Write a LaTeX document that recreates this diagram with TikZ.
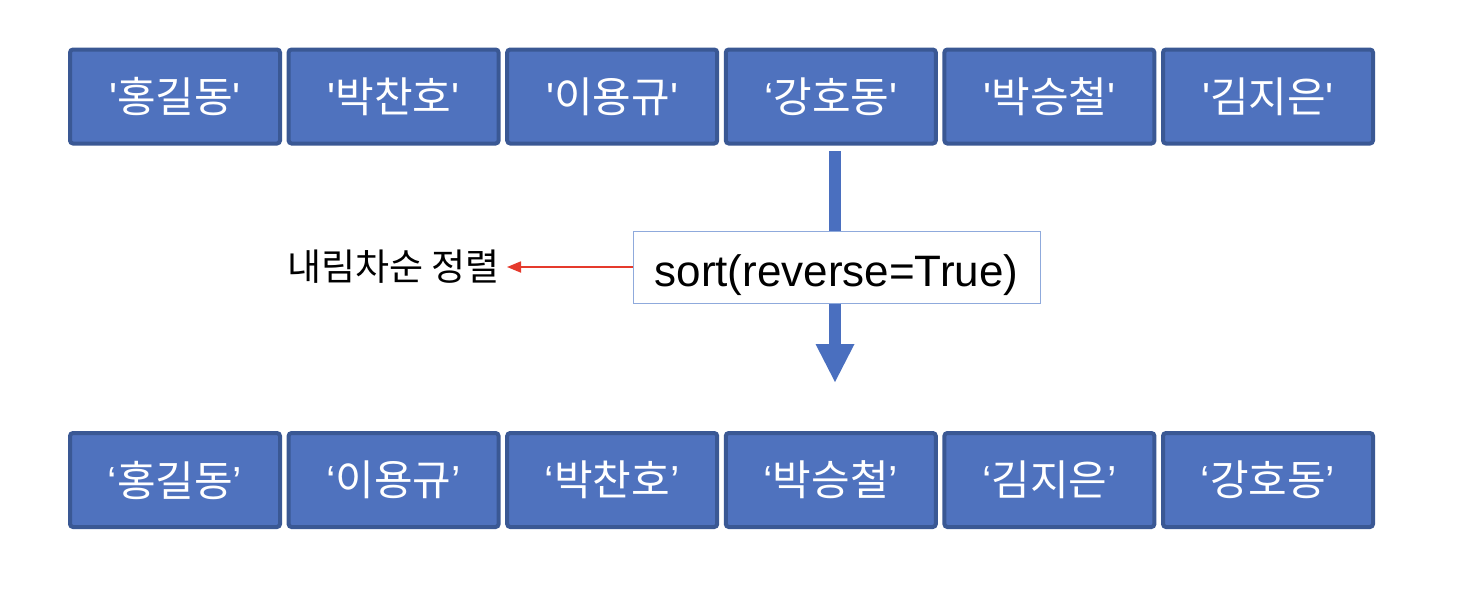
\documentclass[tikz,border=0pt]{standalone}
\usepackage{fontspec}
\setmainfont{Liberation Sans}
\newfontfamily\krfont{Noto Sans CJK KR}
\newfontfamily\latfont{Liberation Sans}
\usetikzlibrary{arrows.meta}
\definecolor{boxfill}{HTML}{4F72BE}
\definecolor{boxline}{HTML}{3A5894}
\definecolor{arrowblue}{HTML}{4A6FBF}
\definecolor{thinblue}{HTML}{8FAADC}
\definecolor{redline}{HTML}{E53A2C}
\newcommand\myq{{\latfont\textquotesingle}}
\newcommand\myoq{{\latfont ‘}}
\newcommand\mycq{{\latfont ’}}
\begin{document}
\begin{tikzpicture}[x=0.5pt,y=-0.5pt,
  namebox/.style={draw=boxline, fill=boxfill, line width=2pt, rounded corners=1.5pt,
    minimum width=105pt, minimum height=47pt, inner sep=0pt, text=white,
    font=\krfont\fontsize{21}{24}\selectfont},
  sortbox/.style={draw=thinblue, fill=white, line width=0.5pt, minimum width=203.5pt,
    minimum height=36pt, inner sep=0pt, text height=19pt, text depth=0pt,
    font=\latfont\fontsize{22}{26}\selectfont},
  lblstyle/.style={inner xsep=3.5pt, inner ysep=0pt, font=\krfont\fontsize{18.5}{22}\selectfont},
  bigarrow/.style={draw=arrowblue, line width=6pt},
  redarrow/.style={draw=redline, line width=0.9pt, -{Triangle[length=7pt,width=5.5pt]}}
]
\useasboundingbox (0,0) rectangle (1480,596);
% top row
\node[namebox] (t1) at (175,96.5) {\myq 홍길동\myq};
\node[namebox] (t2) at (393.6,96.5) {\myq 박찬호\myq};
\node[namebox] (t3) at (612.2,96.5) {\myq 이용규\myq};
\node[namebox] (t4) at (830.8,96.5) {\myoq 강호동\myq};
\node[namebox] (t5) at (1049.4,96.5) {\myq 박승철\myq};
\node[namebox] (t6) at (1268,96.5) {\myq 김지은\myq};
% bottom row
\node[namebox] (b1) at (175,480) {\myoq 홍길동\mycq};
\node[namebox] (b2) at (393.6,480) {\myoq 이용규\mycq};
\node[namebox] (b3) at (612.2,480) {\myoq 박찬호\mycq};
\node[namebox] (b4) at (830.8,480) {\myoq 박승철\mycq};
\node[namebox] (b5) at (1049.4,480) {\myoq 김지은\mycq};
\node[namebox] (b6) at (1268,480) {\myoq 강호동\mycq};
% sort box and arrow
\node[sortbox] (sb) at (836.5,267) {sort(reverse=True)};
\coordinate (a1) at (835,151);
\coordinate (a2) at (835,382);
\coordinate (a3) at (835,344);
\draw[bigarrow] (a1) -- (a1 |- sb.north);
\draw[bigarrow] (a2 |- sb.south) -- (a3);
\fill[arrowblue] ([xshift=-9.75pt]a3) -- ([xshift=9.75pt]a3) -- (a2) -- cycle;
% label
\node[lblstyle, anchor=east] (lbl) at (507,267) {내림차순 정렬};
\draw[redarrow] (sb.west) -- (lbl.east);
\end{tikzpicture}
\end{document}
